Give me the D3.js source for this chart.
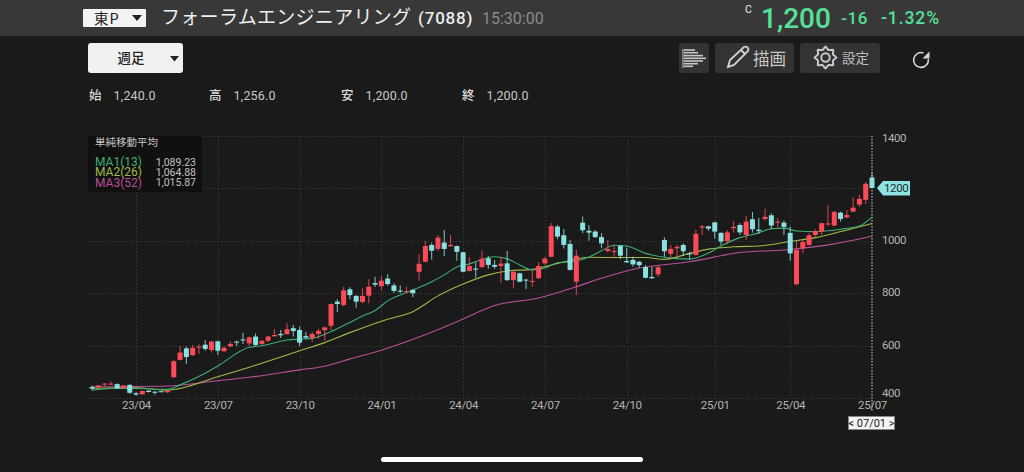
<!DOCTYPE html>
<html>
<head>
<meta charset="utf-8">
<script src="https://cdn.jsdelivr.net/npm/d3@7"></script>
<style>
  html, body { margin: 0; padding: 0; background: #1a1a1a; overflow: hidden; }
  svg { display: block; }
  text { font-family: Roboto, "Noto Sans CJK JP", sans-serif; }
  .jp { font-family: "Noto Sans CJK JP", Roboto, sans-serif; }
</style>
</head>
<body>
<svg id="chart" width="1024" height="472"></svg>
<script>
// weekly candles, oldest first
const opens = [
  442,440,451,451,453,437,450,418,414,428,
  424,426,422,479,545,589,563,592,603,583,
  616,578,597,615,623,608,634,606,618,635,
  644,643,666,659,636,629,644,658,675,767,
  754,814,789,766,790,838,826,855,829,809,
  804,812,881,919,983,968,992,978,979,955,
  884,893,899,932,907,903,913,849,875,851,
  843,856,913,938,1053,1020,987,843,1068,1037,
  1034,1013,960,956,980,922,926,919,899,861,
  871,1002,949,970,983,951,945,1049,1054,1069,
  1029,998,1047,1059,1021,1081,1041,1082,1096,1068,
  1068,1029,833,970,983,1021,1034,1061,1057,1106,
  1088,1110,1137,1155,1240];
const highs = [
  448,450,457,463,455,449,452,422,428,430,
  426,427,428,545,598,596,602,605,621,618,
  618,596,615,618,649,634,646,620,636,662,
  659,685,678,672,652,653,664,671,760,776,
  824,822,792,818,852,862,866,871,837,829,
  824,814,949,999,991,1021,1040,1021,981,957,
  936,916,961,942,926,936,960,883,877,853,
  888,917,938,1067,1059,1044,1002,964,1091,1059,
  1040,1028,1002,984,982,973,938,922,907,900,
  903,1012,983,983,989,957,1040,1059,1056,1071,
  1031,1040,1074,1066,1093,1109,1087,1121,1104,1085,
  1076,1053,999,1002,1028,1043,1068,1134,1111,1110,
  1116,1165,1175,1223,1256];
const lows = [
  430,438,446,450,434,436,415,409,413,421,
  412,422,419,478,543,530,561,568,580,573,
  564,576,593,598,606,598,598,601,613,634,
  629,642,634,598,624,613,626,618,659,728,
  750,776,744,761,761,823,810,828,800,799,
  801,785,847,917,928,960,941,976,923,879,
  882,858,894,892,892,837,846,818,841,815,
  824,854,907,936,1005,970,886,792,1028,999,
  1010,970,954,932,930,915,900,896,856,855,
  861,938,930,938,941,928,943,1021,1037,1008,
  983,986,1030,1021,1002,1030,1025,1075,1043,1050,
  1021,923,831,951,981,1015,1021,1055,1055,1072,
  1085,1108,1129,1139,1200];
const closes = [
  436,448,455,455,437,448,420,413,427,423,
  420,423,427,540,573,556,591,596,587,615,
  580,591,606,611,620,631,602,618,634,640,
  639,662,655,611,630,644,656,669,758,758,
  810,792,767,789,824,832,847,834,808,805,
  807,799,911,979,961,1011,968,983,957,881,
  903,889,931,907,900,912,849,881,843,848,
  846,903,931,1055,1015,983,888,942,1039,1030,
  1013,989,967,960,942,917,909,906,858,856,
  898,959,968,976,959,949,1025,1054,1045,1034,
  996,1031,1052,1031,1072,1043,1036,1090,1057,1072,
  1052,951,964,994,1020,1036,1066,1065,1109,1082,
  1097,1125,1159,1216,1200];

const ma1Weeks = [0,3,7,12,14,18,20,25,27,31,33,35,38,41,43,45,47,51,54,56,58,60,64,66,68,70,72,74,77,79,81,83,85,88,91,95,98,100,103,106,108,110,112,115,119,122,124];
const ma1Values = [430,436,436,433,450,494,522,593,599,621,624,627,653,688,712,733,770,811,843,869,899,911,938,930,907,888,895,915,922,937,961,982,979,951,936,929,952,979,1011,1029,1045,1047,1036,1034,1043,1055,1089];
const ma2Weeks = [0,7,12,20,25,33,37,41,47,51,55,59,63,66,70,73,76,79,84,88,91,95,98,102,106,111,115,119,124];
const ma2Values = [437,439,430,481,517,580,611,649,700,729,789,834,869,884,890,907,924,936,935,935,928,951,967,976,979,996,1011,1034,1065];
const ma3Weeks = [0,12,20,25,33,37,41,46,52,59,64,71,77,81,87,95,103,110,118,124];
const ma3Values = [443,446,466,479,507,521,549,582,632,701,752,781,824,856,895,919,954,964,987,1016];

const yTicks = [400,600,800,1000,1200,1400];
const xTickWeeks = [7,20,33,46,59,72,85,99,111,124];
const xTickLabels = ['23/04','23/07','23/10','24/01','24/04','24/07','24/10','25/01','25/04','25/07'];

const maNames = ['MA1(13)','MA2(26)','MA3(52)'];
const maLast = ['1,089.23','1,064.88','1,015.87'];
const maColors = ['#3fae74','#a0ba45','#b9519a'];
const ohlcNames = ['始','高','安','終'];
const ohlcValues = ['1,240.0','1,256.0','1,200.0','1,200.0'];

const UP = '#fb4b58', DOWN = '#8be0e0', GREEN = '#55e09a';
const GRID = '#383838', LABEL = '#b4b4b4';

const svg = d3.select('#chart');
svg.append('rect').attr('width', 1024).attr('height', 472).attr('fill', '#1a1a1a');

const x = d3.scaleLinear().domain([0, 124]).range([92, 872]);
const y = d3.scaleLinear().domain([400, 1400]).range([398, 135.5]);

// --- header band
svg.append('rect').attr('width', 1024).attr('height', 36).attr('fill', '#383838');
svg.append('rect').attr('x', 83).attr('y', 9).attr('width', 63).attr('height', 18).attr('rx', 1).attr('fill', '#f3f3f3');
svg.append('text').attr('class', 'jp').attr('x', 94).attr('y', 23.5).attr('font-size', 14.5).attr('fill', '#222').attr('letter-spacing', 1).text('東P');
svg.append('path').attr('d', 'M132 15h10l-5 6z').attr('fill', '#222');
svg.append('text').attr('class', 'jp').attr('x', 161).attr('y', 24).attr('font-size', 19).attr('letter-spacing', 0.3).attr('fill', '#eee').text('フォーラムエンジニアリング');
svg.append('text').attr('x', 418).attr('y', 24).attr('font-size', 17).attr('font-weight', 500).attr('fill', '#eee').attr('letter-spacing', 0.8).text('(7088)');
svg.append('text').attr('x', 482).attr('y', 24).attr('font-size', 16).attr('fill', '#8b8b8b').text('15:30:00');
svg.append('text').attr('x', 745).attr('y', 13).attr('font-size', 10.5).attr('fill', '#eee').text('C');
svg.append('text').attr('x', 761).attr('y', 28).attr('font-size', 28).attr('font-weight', 500).attr('fill', GREEN).text('1,200');
svg.append('text').attr('x', 841).attr('y', 24).attr('font-size', 17).attr('font-weight', 500).attr('fill', GREEN).attr('letter-spacing', 0.6).text('-16');
svg.append('text').attr('x', 881).attr('y', 24).attr('font-size', 17.5).attr('font-weight', 500).attr('fill', GREEN).attr('letter-spacing', 0.9).text('-1.32%');

// --- toolbar
svg.append('rect').attr('x', 88).attr('y', 43).attr('width', 95).attr('height', 30).attr('rx', 3).attr('fill', '#f1f1f1');
svg.append('text').attr('class', 'jp').attr('x', 131).attr('y', 63).attr('text-anchor', 'middle').attr('font-size', 13.5).attr('font-weight', 500).attr('fill', '#222').text('週足');
svg.append('path').attr('d', 'M170 56h9l-4.500 5.500z').attr('fill', '#222');

[[679, 30], [715, 79], [800, 80]].forEach(([bx, bw]) => {
  svg.append('rect').attr('x', bx).attr('y', 43).attr('width', bw).attr('height', 30).attr('rx', 3).attr('fill', '#333');
});
// bars icon
const barsIcon = svg.append('g').attr('stroke', '#c8c8c8').attr('stroke-width', 1.6);
barsIcon.append('line').attr('x1', 683).attr('x2', 683).attr('y1', 49).attr('y2', 68).attr('stroke-width', 1);
[[50, 695], [52.7, 698], [55.6, 703], [58.3, 706], [61, 703], [63.7, 698], [66.3, 693]].forEach(([by, bx]) => {
  barsIcon.append('line').attr('x1', 684).attr('x2', bx).attr('y1', by).attr('y2', by);
});
// pencil icon
svg.append('path').attr('d', 'M728 67l2-7 14-13q2-1 3.5 .5t.5 3.5l-14 14z M741 50l4 4')
  .attr('fill', 'none').attr('stroke', '#d0d0d0').attr('stroke-width', 1.9);
svg.append('text').attr('class', 'jp').attr('x', 753).attr('y', 64.5).attr('font-size', 16.5).attr('fill', '#c8c8c8').text('描画');
// gear icon
const gearPts = d3.range(16).map(k => {
  const a = k * Math.PI / 8, r = k % 2 ? 8 : 11;
  return [825.5 + r * Math.cos(a), 57.5 + r * Math.sin(a)];
});
svg.append('path').attr('d', d3.line().curve(d3.curveCardinalClosed.tension(0.6))(gearPts))
  .attr('fill', 'none').attr('stroke', '#c8c8c8').attr('stroke-width', 2);
svg.append('circle').attr('cx', 825.5).attr('cy', 57.500).attr('r', 4.2).attr('fill', 'none').attr('stroke', '#c8c8c8').attr('stroke-width', 2);
svg.append('text').attr('class', 'jp').attr('x', 842).attr('y', 63).attr('font-size', 13.5).attr('fill', '#c0c0c0').text('設定');
// reload icon
svg.append('path').attr('d', d3.arc()({ innerRadius: 7.4, outerRadius: 7.4, startAngle: 1.45, endAngle: 6.62 }))
  .attr('transform', 'translate(921,60)').attr('fill', 'none').attr('stroke', '#d8d8d8').attr('stroke-width', 1.6);
svg.append('path').attr('d', 'M929.500 51.500v7h-7z').attr('fill', '#d8d8d8');

// --- OHLC row
const ohlcX = [89, 209, 341, 462];
ohlcNames.forEach((n, k) => {
  svg.append('text').attr('class', 'jp').attr('x', ohlcX[k]).attr('y', 100).attr('font-size', 12.5).attr('font-weight', 500).attr('fill', '#dcdcdc').text(n);
  svg.append('text').attr('x', ohlcX[k] + 24.5).attr('y', 100).attr('font-size', 12.5).attr('fill', '#c8c8c8').attr('letter-spacing', 0.2).text(ohlcValues[k]);
});

// --- grid
const grid = svg.append('g').attr('stroke', GRID).attr('stroke-width', 1).attr('stroke-dasharray', '1.5,2');
yTicks.forEach(t => {
  grid.append('line').attr('x1', 88).attr('x2', 872).attr('y1', Math.round(y(t)) + 0.5).attr('y2', Math.round(y(t)) + 0.5);
});
xTickWeeks.slice(0, -1).forEach(w => {
  grid.append('line').attr('x1', Math.round(x(w)) + 0.5).attr('x2', Math.round(x(w)) + 0.5).attr('y1', 136).attr('y2', 398);
});
svg.append('line').attr('x1', 872).attr('x2', 872).attr('y1', 136).attr('y2', 412)
  .attr('stroke', '#d8d8d8').attr('stroke-width', 1).attr('stroke-dasharray', '1.5,1.5');

// --- axes
const xAxis = d3.axisBottom(x).tickValues(xTickWeeks).tickSize(0).tickPadding(0)
  .tickFormat((d, k) => xTickLabels[k]);
const xg = svg.append('g').attr('transform', 'translate(0,398)').call(xAxis);
xg.select('.domain').remove();
xg.selectAll('text').attr('font-size', 11.5).attr('fill', LABEL).attr('font-family', 'Roboto')
  .attr('letter-spacing', -0.35).attr('dy', '0.95em');

const yAxis = d3.axisRight(y).tickValues(yTicks.filter(t => t !== 1200)).tickSize(0).tickPadding(0)
  .tickFormat(d3.format('d'));
const yg = svg.append('g').attr('transform', 'translate(882,0)').call(yAxis);
yg.select('.domain').remove();
yg.selectAll('text').attr('font-size', 11.5).attr('fill', LABEL).attr('font-family', 'Roboto')
  .attr('letter-spacing', -0.5)
  .attr('dy', d => d === 1400 ? '0.55em' : d === 400 ? '-0.1em' : '0.25em');

// --- moving averages under the candles
const maLine = d3.line().x(d => x(d[0])).y(d => y(d[1])).curve(d3.curveMonotoneX);
[[ma3Weeks, ma3Values, 2], [ma2Weeks, ma2Values, 1], [ma1Weeks, ma1Values, 0]].forEach(([w, v, k]) => {
  svg.append('path').attr('d', maLine(d3.zip(w, v))).attr('fill', 'none')
    .attr('stroke', maColors[k]).attr('stroke-width', 1.1);
});

// --- candles
const candles = d3.range(opens.length);
const candle = svg.append('g').selectAll('g').data(candles).join('g')
  .attr('fill', i => closes[i] >= opens[i] ? UP : DOWN)
  .attr('stroke', i => closes[i] >= opens[i] ? UP : DOWN);
candle.append('line')
  .attr('x1', i => x(i)).attr('x2', i => x(i))
  .attr('y1', i => y(highs[i])).attr('y2', i => y(lows[i]))
  .attr('stroke-width', 1.1).attr('stroke-opacity', 0.8);
candle.append('rect')
  .attr('x', i => x(i) - 2.5).attr('width', 5)
  .attr('y', i => y(Math.max(opens[i], closes[i])))
  .attr('height', i => Math.max(1, Math.abs(y(opens[i]) - y(closes[i]))))
  .attr('stroke', 'none');

// --- MA legend
svg.append('rect').attr('x', 88).attr('y', 136).attr('width', 114).attr('height', 56).attr('fill', '#101010');
svg.append('text').attr('class', 'jp').attr('x', 95).attr('y', 146).attr('font-size', 10.5).attr('fill', '#c4c4c4').text('単純移動平均');
maNames.forEach((n, k) => {
  const ty = 166 + k * 10.4;
  svg.append('text').attr('x', 95).attr('y', ty).attr('font-size', 12).attr('fill', maColors[k]).text(n);
  svg.append('text').attr('x', 196).attr('y', ty - 0.5).attr('text-anchor', 'end').attr('font-size', 10.5).attr('fill', '#c4c4c4').text(maLast[k]);
});

// --- last price tag
const lastY = y(closes[closes.length - 1]);
svg.append('path').attr('d', `M877 ${lastY}l6 -7h27v14.5h-27z`).attr('fill', '#8fe3e3');
svg.append('text').attr('x', 884).attr('y', lastY + 4.2).attr('font-size', 11.5).attr('letter-spacing', -0.4).attr('fill', '#1c2c2c').text(d3.format('d')(closes[closes.length - 1]));

// --- date tag
svg.append('rect').attr('x', 848.5).attr('y', 416.5).attr('width', 46).attr('height', 13).attr('fill', '#f4f4f4').attr('stroke', '#888').attr('stroke-width', 0.7);
svg.append('text').attr('x', 871.5).attr('y', 427).attr('text-anchor', 'middle').attr('font-size', 11).attr('fill', '#222').text('< 07/01 >');

// --- home indicator
svg.append('rect').attr('x', 381).attr('y', 457).attr('width', 262).attr('height', 5).attr('rx', 2.5).attr('fill', '#fff');
</script>
</body>
</html>
